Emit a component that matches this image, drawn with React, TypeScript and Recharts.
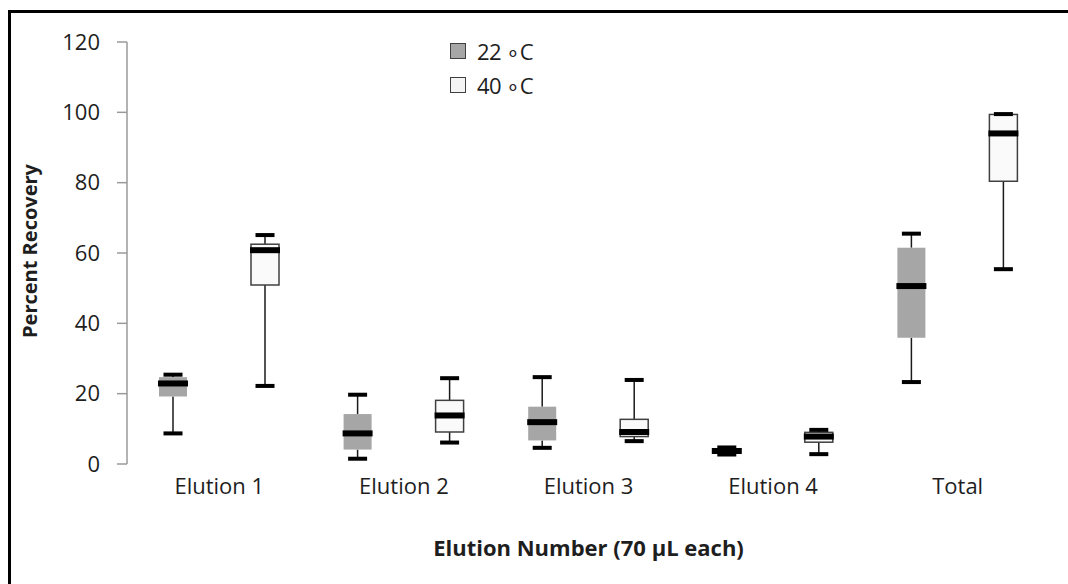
import { Bar, ComposedChart, Label, Legend, XAxis, YAxis } from 'recharts';

const categories = ['Elution 1', 'Elution 2', 'Elution 3', 'Elution 4', 'Total'];
const yTicks = [0, 20, 40, 60, 80, 100, 120];
const seriesNames = ['22 \u2218C', '40 \u2218C'];

// 22 °C
const min22 = [8.7, 1.5, 4.6, 2.7, 23.3];
const q1_22 = [19.2, 4.1, 6.7, 3.4, 35.9];
const med22 = [22.9, 8.7, 11.9, 3.7, 50.6];
const q3_22 = [24.7, 14.2, 16.3, 4.0, 61.5];
const max22 = [25.4, 19.7, 24.7, 4.7, 65.5];

// 40 °C
const min40 = [22.2, 6.1, 6.5, 2.8, 55.4];
const q1_40 = [50.9, 9.1, 7.8, 6.2, 80.4];
const med40 = [60.8, 13.8, 9.1, 7.8, 94.0];
const q3_40 = [62.5, 18.1, 12.7, 9.0, 99.4];
const max40 = [65.1, 24.4, 23.9, 9.7, 99.5];

const data = categories.map((name, i) => ({
  name,
  r22: [min22[i], max22[i]],
  r40: [min40[i], max40[i]],
  b22: { min: min22[i], q1: q1_22[i], med: med22[i], q3: q3_22[i], max: max22[i] },
  b40: { min: min40[i], q1: q1_40[i], med: med40[i], q3: q3_40[i], max: max40[i] },
}));

const slotTicks = Array.from({ length: categories.length * 2 + 1 }, (_, i) => i);

const AXIS = '#9a9a9a';
const INK = '#1e1e1e';

function makeBox(key: 'b22' | 'b40', fill: string, stroke: string) {
  return (props: any) => {
    const { x, y, width, height, payload } = props;
    const b = payload[key];
    const top = Math.min(y, y + height);
    const h = Math.abs(height);
    const py = (v: number) => (b.max === b.min ? top : top + (h * (b.max - v)) / (b.max - b.min));
    const cx = x + width / 2;
    const capW = 19;
    const medW = width + 2;
    return (
      <g>
        <line x1={cx} x2={cx} y1={py(b.max)} y2={py(b.q3)} stroke="#1a1a1a" strokeWidth={1.5} />
        <line x1={cx} x2={cx} y1={py(b.q1)} y2={py(b.min)} stroke="#1a1a1a" strokeWidth={1.5} />
        <rect
          x={x}
          y={py(b.q3)}
          width={width}
          height={Math.max(py(b.q1) - py(b.q3), 0.5)}
          fill={fill}
          stroke={stroke}
          strokeWidth={stroke === 'none' ? 0 : 1.5}
        />
        <rect x={cx - capW / 2} y={py(b.max) - 2} width={capW} height={4} fill="#000" />
        <rect x={cx - capW / 2} y={py(b.min) - 2} width={capW} height={4} fill="#000" />
        <rect x={cx - medW / 2} y={py(b.med) - 3} width={medW} height={6} fill="#000" />
      </g>
    );
  };
}

const box22 = makeBox('b22', '#a6a6a6', 'none');
const box40 = makeBox('b40', '#fafafa', '#404040');

const legendFills = ['#a6a6a6', '#f4f4f4'];

function LegendBox() {
  return (
    <div style={{ fontSize: 22, color: INK }}>
      {seriesNames.map((n, i) => (
        <div key={n} style={{ display: 'flex', alignItems: 'center', height: 16, marginBottom: 18 }}>
          <span
            style={{
              display: 'inline-block',
              width: 14,
              height: 14,
              background: legendFills[i],
              border: '1px solid #404040',
              marginRight: 11,
            }}
          />
          <span style={{ lineHeight: '16px', whiteSpace: 'nowrap', letterSpacing: -0.5 }}>{n}</span>
        </div>
      ))}
    </div>
  );
}

function YTitle(props: any) {
  const vb = props.viewBox;
  const px = vb.x + 26;
  const py = vb.y + vb.height / 2 - 2;
  return (
    <text x={px} y={py} transform={`rotate(-90, ${px}, ${py})`} textAnchor="middle" fontWeight="bold" fontSize={20} fill={INK}>
      Percent Recovery
    </text>
  );
}

function XTitle(props: any) {
  const vb = props.viewBox;
  return (
    <text x={vb.x + vb.width / 2} y={vb.y + 92} textAnchor="middle" fontWeight="bold" fontSize={22} fill={INK}>
      Elution Number (70 µL each)
    </text>
  );
}

export default function App() {
  return (
    <div
      style={{
        position: 'fixed',
        top: 10,
        left: 8,
        width: 1100,
        height: 620,
        boxSizing: 'border-box',
        borderTop: '3px solid #000',
        borderLeft: '3px solid #000',
        background: '#fff',
        fontFamily: '"Open Sans", sans-serif',
      }}
    >
      <ComposedChart width={1057} height={571} data={data} margin={{ top: 29, right: 18, bottom: 60, left: 0 }} barGap={64}>
        <XAxis
          xAxisId="grid"
          type="number"
          domain={[0, slotTicks.length - 1]}
          ticks={slotTicks}
          tick={false}
          tickSize={8}
          height={0}
          stroke={AXIS}
          strokeWidth={1.5}
        />
        <XAxis
          xAxisId="cat"
          dataKey="name"
          axisLine={false}
          tickLine={false}
          tickSize={0}
          tickMargin={14}
          height={60}
          interval={0}
          tick={{ fontSize: 22, fill: INK }}
        >
          <Label content={XTitle} />
        </XAxis>
        <YAxis
          width={116}
          domain={[0, 120]}
          ticks={yTicks}
          tickSize={10}
          tickMargin={17}
          stroke={AXIS}
          strokeWidth={1.5}
          tick={{ fontSize: 22, fill: INK }}
        >
          <Label content={YTitle} />
        </YAxis>
        <Legend
          layout="vertical"
          align="center"
          verticalAlign="middle"
          wrapperStyle={{ position: 'absolute', top: 30, left: 439, width: 'auto', height: 'auto' }}
          content={() => <LegendBox />}
        />
        <Bar xAxisId="cat" dataKey="r22" barSize={28} shape={box22} isAnimationActive={false} />
        <Bar xAxisId="cat" dataKey="r40" barSize={28} shape={box40} isAnimationActive={false} />
      </ComposedChart>
    </div>
  );
}
